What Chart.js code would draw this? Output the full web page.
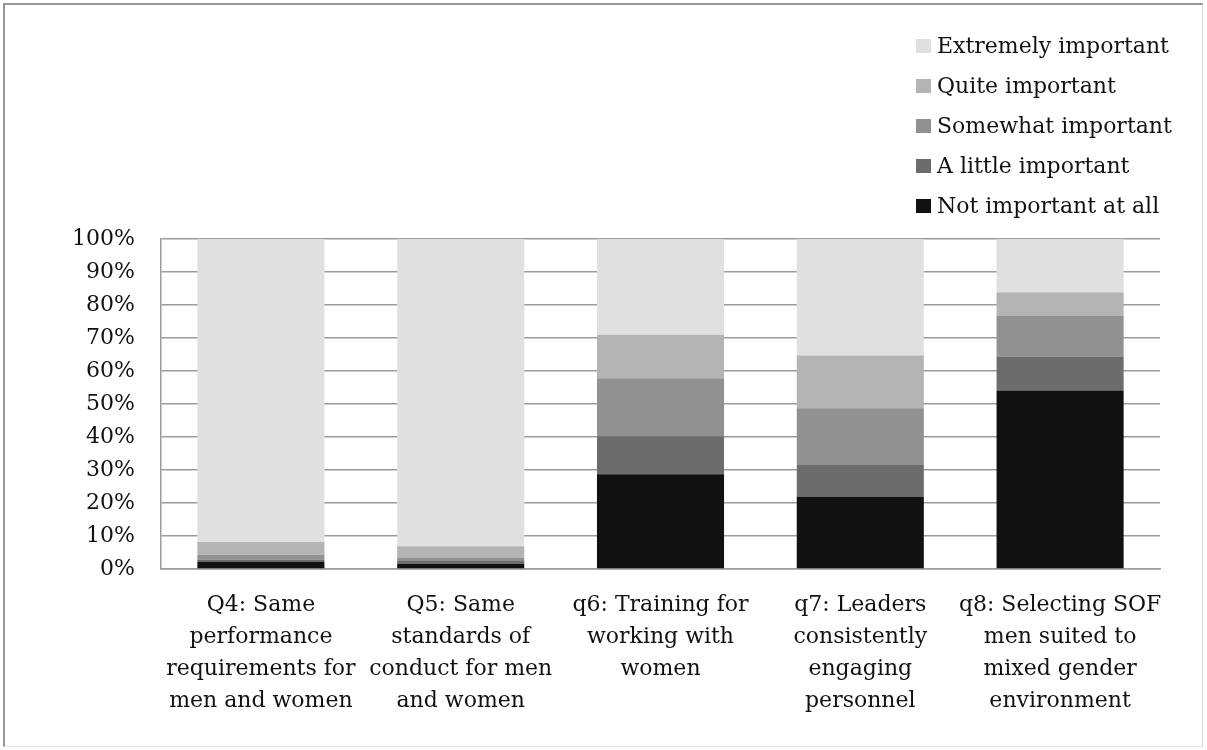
<!DOCTYPE html>
<html>
<head>
<meta charset="utf-8">
<script src="https://cdn.jsdelivr.net/npm/chart.js@4/dist/chart.umd.min.js"></script>
<style>
  html, body { margin: 0; padding: 0; background: #fff; }
  #wrap { position: relative; width: 1207px; height: 750px; overflow: hidden; background: #fff; }
  #c { position: absolute; left: 0; top: 0; }
  #frame { position: absolute; left: 3px; top: 3px; width: 1200px; height: 744px;
           border-left: 2px solid #969696; border-top: 2px solid #969696;
           border-right: 1px solid #d8d8d8; border-bottom: 1px solid #e6e6e6;
           box-sizing: border-box; pointer-events: none; }
  #legend { position: absolute; left: 916px; top: 26px; font-family: "DejaVu Serif", serif;
            font-size: 22px; color: #111; }
  .li { position: relative; height: 40px; line-height: 40px; white-space: nowrap; }
  .li .box { position: absolute; left: 0; top: 13px; width: 15px; height: 14px; }
  .li .txt { position: absolute; left: 21px; top: 0; }
</style>
</head>
<body>
<div id="wrap">
  <canvas id="c" width="1207" height="750"></canvas>
  <div id="legend"></div>
  <div id="frame"></div>
</div>
<script>
// ---- Data ----
const categories = [
  ["Q4: Same", "performance", "requirements for", "men and women"],
  ["Q5: Same", "standards of", "conduct for men", "and women"],
  ["q6: Training for", "working with", "women"],
  ["q7: Leaders", "consistently", "engaging", "personnel"],
  ["q8: Selecting SOF", "men suited to", "mixed gender", "environment"]
];
const seriesNames = ["Not important at all", "A little important", "Somewhat important", "Quite important", "Extremely important"];
const notImportant      = [2.1, 1.6, 28.7, 21.8, 54.1];
const littleImportant   = [0.7, 0.8, 11.5, 9.7, 10.3];
const somewhatImportant = [1.5, 0.9, 17.6, 17.2, 12.4];
const quiteImportant    = [3.9, 3.6, 13.2, 16.0, 7.1];
const extremelyImportant= [91.8, 93.1, 29.0, 35.3, 16.1];
const seriesColors = ["#111111", "#6c6c6c", "#919191", "#b4b4b4", "#e0e0e0"];
const yTicks = [0, 10, 20, 30, 40, 50, 60, 70, 80, 90, 100];

const seriesValues = [notImportant, littleImportant, somewhatImportant, quiteImportant, extremelyImportant];

const FONT = "'DejaVu Serif', serif";

const chart = new Chart(document.getElementById('c'), {
  type: 'bar',
  data: {
    labels: categories,
    datasets: seriesNames.map((name, i) => ({
      label: name,
      data: seriesValues[i],
      backgroundColor: seriesColors[i],
      borderWidth: 0,
      categoryPercentage: 1.0,
      barPercentage: 0.636
    }))
  },
  options: {
    responsive: false,
    animation: false,
    events: [],
    layout: { padding: { top: 239, right: 47, left: 0, bottom: 0 } },
    plugins: { legend: { display: false }, tooltip: { enabled: false } },
    scales: {
      x: {
        stacked: true,
        grid: { display: false, drawTicks: false },
        border: { display: true, color: '#9c9c9c', width: 1.5 },
        ticks: {
          autoSkip: false, maxRotation: 0, minRotation: 0, padding: 20,
          color: '#111',
          font: { family: FONT, size: 22, lineHeight: 32 / 22 }
        },
        afterFit: (s) => { s.height = 181; }
      },
      y: {
        stacked: true,
        min: 0, max: 100,
        afterBuildTicks: (s) => { s.ticks = yTicks.map(v => ({ value: v })); },
        grid: { color: '#9c9c9c', lineWidth: 1.5, drawTicks: false },
        border: { display: true, color: '#9c9c9c', width: 1.5 },
        ticks: {
          padding: 26, color: '#111',
          font: { family: FONT, size: 22 },
          callback: (v) => v + '%'
        },
        afterFit: (s) => { s.width = 161; }
      }
    }
  }
});

// HTML legend built from the chart's datasets (reverse order, top = Extremely important)
const legend = document.getElementById('legend');
chart.data.datasets.slice().reverse().forEach(ds => {
  const row = document.createElement('div');
  row.className = 'li';
  const box = document.createElement('span');
  box.className = 'box';
  box.style.background = ds.backgroundColor;
  const txt = document.createElement('span');
  txt.className = 'txt';
  txt.textContent = ds.label;
  row.appendChild(box); row.appendChild(txt);
  legend.appendChild(row);
});
</script>
</body>
</html>
